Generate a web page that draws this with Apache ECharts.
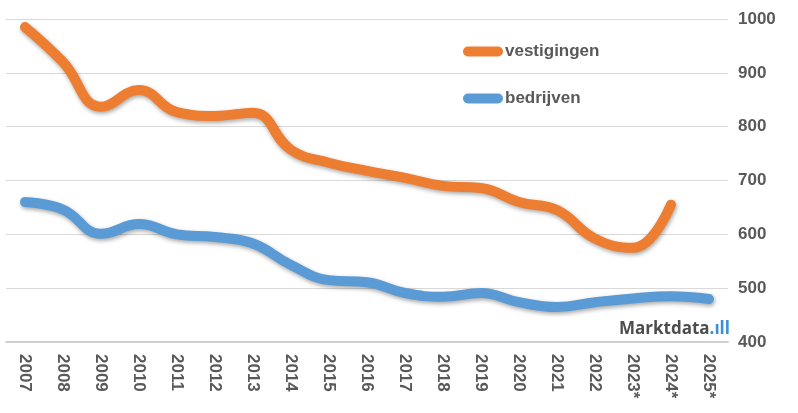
<!DOCTYPE html>
<html><head><meta charset="utf-8">
<script src="https://cdn.jsdelivr.net/npm/echarts@6/dist/echarts.min.js"></script>
<style>html,body{margin:0;padding:0;background:#fff}#c{width:798px;height:413px}</style>
</head><body><div id="c"></div>
<script>
const categories = ['2007','2008','2009','2010','2011','2012','2013','2014','2015','2016','2017','2018','2019','2020','2021','2022','2023*','2024*','2025*'];
const vestigingen = [985,920,837,868,827,820,826,757,733,718,705,690,686,660,645,592,575,655,null];
const bedrijven = [660,646,601,619,600,595,583,543,515,511,491,484,491,474,465,474,481,485,480];
const yTicks = {min:400, max:1000, interval:100};

const chart = echarts.init(document.getElementById('c'));
const fontFam = '"Liberation Sans", Arial, sans-serif';
const shadow = {shadowBlur:4, shadowColor:'rgba(0,0,0,0.35)', shadowOffsetX:1, shadowOffsetY:2};
const pill = 'path://M5,0 H35 A5,5 0 0 1 35,10 H5 A5,5 0 0 1 5,0 Z';
chart.setOption({
  animation:false,
  grid:{left:6, right:70, top:19, bottom:71},
  legend:{
    orient:'vertical', left:458, top:38, itemGap:30,
    itemWidth:40, itemHeight:10, icon:pill,
    textStyle:{fontFamily:fontFam, fontWeight:'bold', fontSize:17, color:'#595959', padding:[0,0,0,-3]},
    data:['vestigingen','bedrijven']
  },
  xAxis:{
    type:'category', data:categories, boundaryGap:true,
    axisLine:{lineStyle:{color:'#d0d0d0', width:2}},
    axisTick:{show:false},
    axisLabel:{rotate:-90, margin:12, fontFamily:fontFam, fontWeight:'bold', fontSize:17, color:'#595959', interval:0}
  },
  yAxis:{
    type:'value', position:'right', min:yTicks.min, max:yTicks.max, interval:yTicks.interval,
    axisLine:{show:false}, axisTick:{show:false},
    splitLine:{lineStyle:{color:'#d9d9d9', width:1}},
    axisLabel:{margin:10, fontFamily:fontFam, fontWeight:'bold', fontSize:17, color:'#595959', formatter:v=>String(v)}
  },
  graphic:[{
    type:'text', right:68, top:321,
    style:{
      text:'{a|Marktdata}{b|.ıll}',
      rich:{
        a:{fontFamily:'"Open Sans", sans-serif', fontWeight:'bold', fontSize:17, fill:'#4d4d4d'},
        b:{fontFamily:'"Open Sans", sans-serif', fontWeight:'bold', fontSize:17, fill:'#3a8fd6'}
      }
    }
  }],
  series:[
    {name:'vestigingen', type:'line', data:vestigingen, smooth:0.45, symbol:'none',
     lineStyle:Object.assign({color:'#ED7D31', width:10, cap:'round'}, shadow),
     itemStyle:{color:'#ED7D31'}},
    {name:'bedrijven', type:'line', data:bedrijven, smooth:0.45, symbol:'none',
     lineStyle:Object.assign({color:'#5B9BD5', width:10, cap:'round'}, shadow),
     itemStyle:{color:'#5B9BD5'}}
  ]
});
</script></body></html>
